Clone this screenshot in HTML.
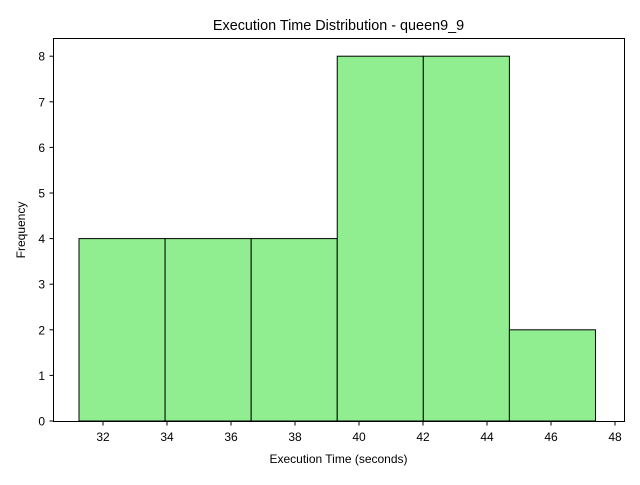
<!DOCTYPE html>
<html><head><meta charset="utf-8"><style>
body{margin:0;background:#fff;}
svg{font-family:"Liberation Sans","DejaVu Sans",sans-serif;}
</style></head><body>
<svg id="chart" width="640" height="480">
<text x="338.5" y="30" text-anchor="middle" font-size="14.4">Execution Time Distribution - queen9_9</text>
<g id="bars"></g>
<g id="xticks"></g>
<g id="yticks"></g>
<rect x="53.5" y="38.5" width="571" height="383" fill="none" stroke="#000" stroke-width="1"/>
<text x="338.5" y="463" text-anchor="middle" font-size="12">Execution Time (seconds)</text>
<text x="0" y="0" transform="translate(25,230) rotate(-90)" text-anchor="middle" font-size="12">Frequency</text>
</svg>
<script>
const binEdges = [31.25, 33.94, 36.63, 39.32, 42.01, 44.70, 47.39];
const counts = [4, 4, 4, 8, 8, 2];
const xTickLabels = [32, 34, 36, 38, 40, 42, 44, 46, 48];
const yTickLabels = [0, 1, 2, 3, 4, 5, 6, 7, 8];
const NS = "http://www.w3.org/2000/svg";
const xs = v => 103 + (v - 32) * 32;
const ys = v => 421 - v * 45.6;
const bars = document.getElementById('bars');
counts.forEach((c, i) => {
  const r = document.createElementNS(NS, 'rect');
  const x0 = xs(binEdges[i]), x1 = xs(binEdges[i + 1]);
  r.setAttribute('x', x0); r.setAttribute('y', ys(c));
  r.setAttribute('width', x1 - x0); r.setAttribute('height', ys(0) - ys(c));
  r.setAttribute('fill', '#90ee90'); r.setAttribute('stroke', '#000'); r.setAttribute('stroke-width', '1');
  
  
  bars.appendChild(r);
});
const xt = document.getElementById('xticks');
xTickLabels.forEach(v => {
  const x = xs(v);
  const l = document.createElementNS(NS, 'line');
  l.setAttribute('x1', x); l.setAttribute('x2', x); l.setAttribute('y1', 421.5); l.setAttribute('y2', 425.5);
  l.setAttribute('stroke', '#000');
  
  
  xt.appendChild(l);
  const t = document.createElementNS(NS, 'text');
  t.setAttribute('x', x); t.setAttribute('y', 441); t.setAttribute('text-anchor', 'middle'); t.setAttribute('font-size', '12');
  t.textContent = v;
  
  
  xt.appendChild(t);
});
const yt = document.getElementById('yticks');
yTickLabels.forEach(v => {
  const y = ys(v);
  const l = document.createElementNS(NS, 'line');
  l.setAttribute('x1', 49.5); l.setAttribute('x2', 53.5); l.setAttribute('y1', y); l.setAttribute('y2', y);
  l.setAttribute('stroke', '#000');
  
  
  yt.appendChild(l);
  const t = document.createElementNS(NS, 'text');
  t.setAttribute('x', 45); t.setAttribute('y', y + 4.5); t.setAttribute('text-anchor', 'end'); t.setAttribute('font-size', '12');
  t.textContent = v;
  
  
  yt.appendChild(t);
});
</script>
</body></html>
